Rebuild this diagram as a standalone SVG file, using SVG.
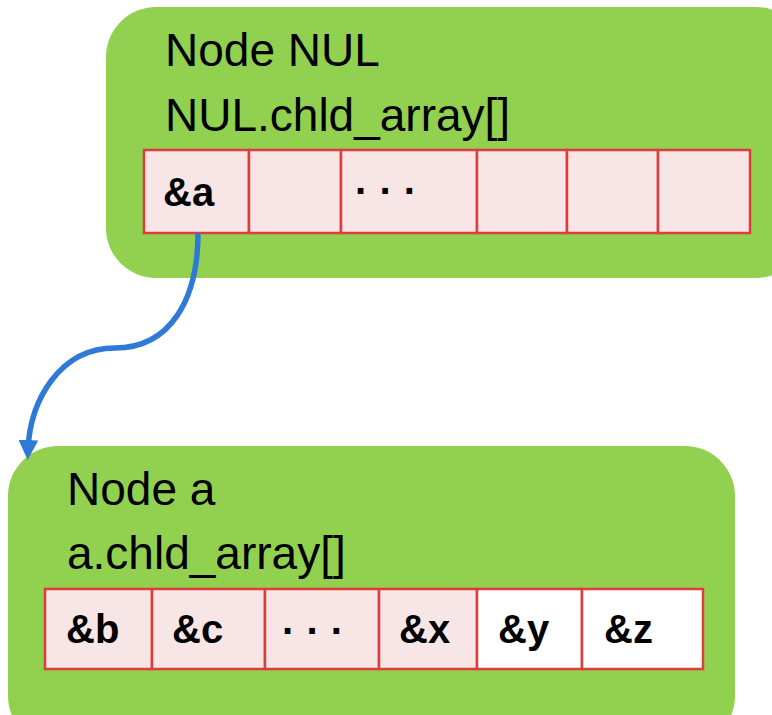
<svg xmlns="http://www.w3.org/2000/svg" width="772" height="715" viewBox="0 0 772 715">
<defs>
<style>
.box{fill:#92d050;}
.cell{fill:#f8e6e6;stroke:#e03c3c;stroke-width:2.5;}
.cellw{fill:#ffffff;stroke:#e03c3c;stroke-width:2.5;}
.t{font-family:"Liberation Sans",Arial,sans-serif;font-size:46px;fill:#000;}
.b{font-family:"Liberation Sans",Arial,sans-serif;font-size:40px;font-weight:bold;fill:#000;}
.d{font-family:"Liberation Sans",Arial,sans-serif;font-size:40px;font-weight:bold;fill:#000;}
.conn{fill:none;stroke:#2f7ad6;stroke-width:5.5;}
</style>
<marker id="ah" viewBox="0 0 10 10" refX="5" refY="5" markerWidth="3.6" markerHeight="3.6" orient="auto" markerUnits="strokeWidth">
<path d="M0,0 L10,5 L0,10 z" fill="#2f7ad6"/>
</marker>
</defs>
<g id="nodeNUL">
<rect class="box" x="106" y="7" width="700" height="271" rx="50" ry="50"/>
<text class="t" x="165" y="66">Node NUL</text>
<text class="t" x="165" y="131">NUL.chld_array[]</text>
<rect class="cell" x="144" y="150" width="105" height="83"/>
<rect class="cell" x="249" y="150" width="92" height="83"/>
<rect class="cell" x="341" y="150" width="136" height="83"/>
<rect class="cell" x="477" y="150" width="90" height="83"/>
<rect class="cell" x="567" y="150" width="91" height="83"/>
<rect class="cell" x="658" y="150" width="92" height="83"/>
<text class="b" x="163" y="206">&amp;a</text>
<text class="d" x="355" y="205">· · ·</text>
</g>
<g id="nodeA">
<rect class="box" x="8" y="446" width="727" height="300" rx="50" ry="50"/>
<text class="t" x="67" y="505">Node a</text>
<text class="t" x="67" y="569">a.chld_array[]</text>
<rect class="cell" x="45" y="589" width="107" height="80"/>
<rect class="cell" x="152" y="589" width="113" height="80"/>
<rect class="cell" x="265" y="589" width="114" height="80"/>
<rect class="cell" x="379" y="589" width="98" height="80"/>
<rect class="cellw" x="477" y="589" width="105" height="80"/>
<rect class="cellw" x="582" y="589" width="121" height="80"/>
<text class="b" x="66" y="643">&amp;b</text>
<text class="b" x="172" y="643">&amp;c</text>
<text class="d" x="282" y="645">· · ·</text>
<text class="b" x="399" y="643">&amp;x</text>
<text class="b" x="498" y="643">&amp;y</text>
<text class="b" x="604" y="643">&amp;z</text>
</g>
<g id="connectors">
<path class="conn" d="M198,233 C198,300 170,348 115,348 C60,348 30,400 28,450" marker-end="url(#ah)"/>
</g>
</svg>
